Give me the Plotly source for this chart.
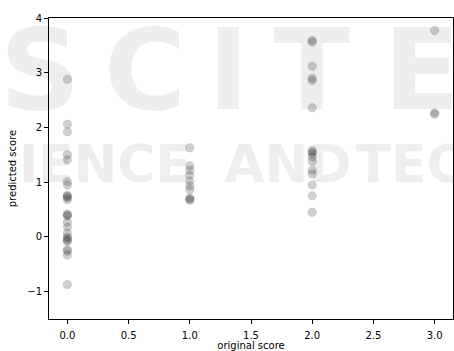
import plotly.graph_objects as go

# predicted scores grouped by original score
pred_at_0 = [2.88, 2.06, 1.92, 1.50, 1.41, 1.01, 0.95, 0.76, 0.74, 0.72, 0.68,
             0.42, 0.40, 0.38, 0.27, 0.18, 0.07, 0.00, -0.03, -0.06, -0.08,
             -0.23, -0.26, -0.33, -0.87]
pred_at_1 = [1.63, 1.30, 1.22, 1.13, 1.02, 0.93, 0.86, 0.71, 0.69, 0.67]
pred_at_2 = [3.59, 3.56, 3.12, 2.90, 2.86, 2.36, 1.58, 1.55, 1.52, 1.46, 1.38,
             1.22, 1.15, 0.95, 0.75, 0.45]
pred_at_3 = [3.77, 2.27, 2.24]

original = [0.0] * len(pred_at_0) + [1.0] * len(pred_at_1) + [2.0] * len(pred_at_2) + [3.0] * len(pred_at_3)
predicted = pred_at_0 + pred_at_1 + pred_at_2 + pred_at_3

x_ticks = [0.0, 0.5, 1.0, 1.5, 2.0, 2.5, 3.0]
y_ticks = [-1, 0, 1, 2, 3, 4]

fig = go.Figure()
fig.add_trace(go.Scatter(
    x=original, y=predicted, mode="markers",
    marker=dict(size=8.5, color="rgba(0,0,0,0.18)",
                line=dict(width=0.5, color="rgba(0,0,0,0.18)")),
    showlegend=False, hoverinfo="skip"))

# faint watermark behind the data (shape labels on the "below" layer)
wm_color = "#eeeeee"
wm_big = [("S", 40, 62), ("C", 145, 62), ("I", 228, 62), ("T", 312, 62), ("E", 422, 62)]
wm_small = [("IENCE", 105, 160), ("AND", 288, 160), ("TEC", 410, 160)]


def add_wm(text, px, py, size):
    xc = (px - 49) / 404
    yc = (319 - py) / 301
    fig.add_shape(type="rect", xref="paper", yref="paper",
                  x0=xc - 0.01, x1=xc + 0.01, y0=yc - 0.01, y1=yc + 0.01,
                  line=dict(width=0), fillcolor="rgba(0,0,0,0)", layer="below",
                  label=dict(text=text, textposition="middle center",
                             font=dict(family="DejaVu Sans", size=size, color=wm_color,
                                       weight="bold")))


for ch, px, py in wm_big:
    add_wm(ch, px, py, 112)
for word, px, py in wm_small:
    add_wm(word, px, py, 52)

axis_common = dict(showline=True, linecolor="black", linewidth=1, mirror=True,
                   ticks="outside", ticklen=4, tickcolor="black", tickwidth=1,
                   showgrid=False, zeroline=False,
                   tickfont=dict(family="DejaVu Sans", size=10, color="black"),
                   title_font=dict(family="DejaVu Sans", size=10, color="black"))

fig.update_xaxes(range=[-0.15, 3.15], tickvals=x_ticks, tickformat=".1f",
                 ticklabelstandoff=3,
                 title_text="original score", title_standoff=6, **axis_common)
fig.update_yaxes(range=[-1.5, 4], tickvals=y_ticks,
                 title_text="predicted score", title_standoff=8, **axis_common)

fig.update_layout(width=454, height=351,
                  margin=dict(l=49, r=1, t=18, b=32, autoexpand=False),
                  plot_bgcolor="rgba(0,0,0,0)", paper_bgcolor="white")

fig.write_html("out.html", config={"displayModeBar": False},
               post_script="document.body.style.margin='0';")
